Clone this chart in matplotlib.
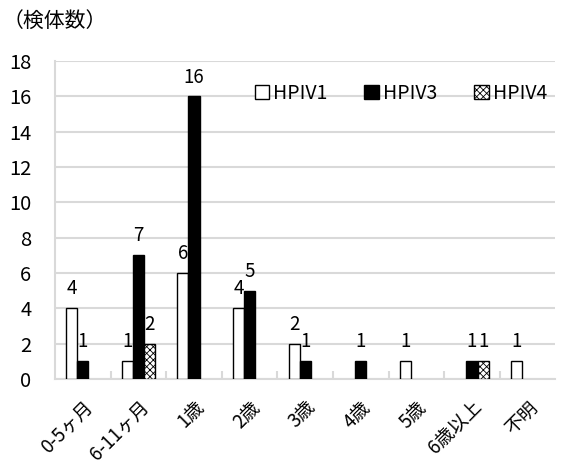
import numpy as np
import matplotlib.pyplot as plt

plt.rcParams['font.family'] = ['Noto Sans CJK JP', 'DejaVu Sans']
plt.rcParams['hatch.linewidth'] = 0.6

categories = ["0-5ヶ月", "6-11ヶ月", "1歳", "2歳", "3歳", "4歳", "5歳", "6歳以上", "不明"]
hpiv1 = [4, 1, 6, 4, 2, 0, 1, 0, 1]
hpiv3 = [1, 7, 16, 5, 1, 1, 0, 1, 0]
hpiv4 = [0, 2, 0, 0, 0, 0, 0, 1, 0]

fig = plt.figure(figsize=(5.61, 4.70), dpi=100)
ax = fig.add_axes([0.098, 0.194, 0.892, 0.676])

x = np.arange(len(categories))
w = 0.2
series = [
	("HPIV1", hpiv1, "white", None),
	("HPIV3", hpiv3, "black", None),
	("HPIV4", hpiv4, "white", "xxxxx"),
]
for i, (name, vals, col, hatch) in enumerate(series):
	vals = np.array(vals)
	pos = x + (i - 1) * w
	keep = vals > 0
	ax.bar(pos[keep], vals[keep], w, color=col, edgecolor="black", linewidth=1.0,
		hatch=hatch, label=name, zorder=3)
	for p, v in zip(pos[keep], vals[keep]):
		ax.text(p, v + 0.5, str(v), ha="center", va="bottom", fontsize=13.5)

ax.set_xlim(-0.5, len(categories) - 0.5)
ax.set_ylim(0, 18)
ax.set_yticks(range(0, 19, 2))
ax.yaxis.grid(True, color="#d9d9d9", linewidth=1.5, zorder=0)
ax.tick_params(axis="y", length=0, labelsize=14.5, pad=17)
ax.set_xticks(x)
ax.set_xticklabels(categories, rotation=45, ha="right", rotation_mode="anchor", fontsize=13.5)
ax.tick_params(axis="x", length=0, pad=13)
ax.set_xticks(np.arange(0.5, len(categories) - 0.5, 1), minor=True)
ax.tick_params(axis="x", which="minor", direction="in", length=6, color="#d9d9d9", width=1.5)
for s in ["top", "right"]:
	ax.spines[s].set_visible(False)
for s in ["left", "bottom"]:
	ax.spines[s].set_color("#d9d9d9")
	ax.spines[s].set_linewidth(1.5)

ax.legend(loc="upper right", ncol=3, frameon=False, fontsize=14, handlelength=0.75,
	handleheight=0.75, handletextpad=0.2, columnspacing=1.9, bbox_to_anchor=(1.01, 0.975),
	borderpad=0.2)
fig.text(0.005, 0.955, "（検体数）", fontsize=15, va="center")

fig.savefig("out.png")
